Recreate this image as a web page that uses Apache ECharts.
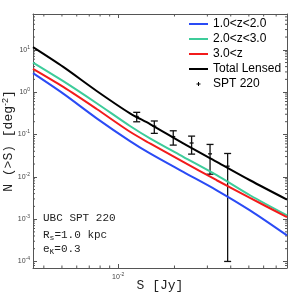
<!DOCTYPE html>
<html><head><meta charset="utf-8">
<script src="https://cdn.jsdelivr.net/npm/echarts@6/dist/echarts.min.js"></script>
<style>html,body{margin:0;padding:0;background:#fff}#c{width:308px;height:301px}</style>
</head><body><div id="c"></div>
<script>
// ---- data ----
const fluxS  = [0.0035, 0.00508, 0.00767, 0.01156, 0.01479, 0.02228, 0.03365, 0.0507, 0.08];
const nZ1to2 = [2.80, 0.919, 0.2404, 0.0697, 0.0356, 0.01303, 0.0048, 0.00161, 0.000412];
const nZ2to3 = [4.99, 1.81, 0.545, 0.158, 0.0807, 0.0296, 0.01089, 0.00366, 0.00123];
const nZ3up  = [3.54, 1.325, 0.399, 0.1156, 0.0614, 0.0225, 0.00828, 0.00316, 0.00112];
const nTotal = [11.56, 3.94, 1.065, 0.3155, 0.176, 0.0614, 0.0225, 0.00828, 0.00289];
const sptS   = [0.01256, 0.0156, 0.0197, 0.0247, 0.031, 0.0385];
const sptN   = [0.266, 0.157, 0.089, 0.0628, 0.0348, 0.0178];
const sptErr = [0.067, 0.051, 0.033, 0.0285, 0.0233, 0.0177];
const seriesNames = ['1.0<z<2.0', '2.0<z<3.0', '3.0<z', 'Total Lensed', 'SPT 220'];
const xRange = [0.0035, 0.08];
const yRange = [7e-5, 70];
const xMinorTicks = [0.004, 0.005, 0.006, 0.007, 0.008, 0.009, 0.02, 0.03, 0.04, 0.05, 0.06, 0.07];
const yMinorTicks = [8e-5, 9e-5,
  2e-4, 3e-4, 4e-4, 5e-4, 6e-4, 7e-4, 8e-4, 9e-4,
  2e-3, 3e-3, 4e-3, 5e-3, 6e-3, 7e-3, 8e-3, 9e-3,
  2e-2, 3e-2, 4e-2, 5e-2, 6e-2, 7e-2, 8e-2, 9e-2,
  0.2, 0.3, 0.4, 0.5, 0.6, 0.7, 0.8, 0.9,
  2, 3, 4, 5, 6, 7, 8, 9,
  20, 30, 40, 50, 60];

// ---- styles ----
const colors = ['#2a4bf5', '#3dcc9a', '#f21b1b', '#000000'];
const axisColor = '#555';
const lineIcon = 'path://M0,0 M19,12 M0,5 L19,5 L19,7 L0,7 Z';
const plusIcon = 'path://M0,0 M19,12 M9,4 L10,4 L10,5.5 L11.5,5.5 L11.5,6.5 L10,6.5 L10,8 L9,8 L9,6.5 L7.5,6.5 L7.5,5.5 L9,5.5 Z';

function powLabel(v) {
  const e = Math.log10(v);
  if (Math.abs(e - Math.round(e)) > 1e-6) return '';
  return '{b|10}{s|' + Math.round(e) + '}';
}
const labelRich = {
  b: {fontSize: 7, fontFamily: 'Liberation Sans', color: '#444'},
  s: {fontSize: 5, fontFamily: 'Liberation Sans', color: '#444', padding: [0, 0, 5, 0]}
};

function lineSeries(name, data, color) {
  return {
    type: 'line', name: name, smooth: 0.3, showSymbol: false, symbol: 'none',
    data: fluxS.map((s, i) => [s, data[i]]),
    lineStyle: {color: color, width: 2}, itemStyle: {color: color},
    emphasis: {disabled: true}, animation: false
  };
}

const chart = echarts.init(document.getElementById('c'), null, {renderer: 'canvas'});
const option = {
  animation: false,
  grid: {left: 33, right: 21, top: 14, bottom: 33, outerBoundsMode: 'none', containLabel: false},
  legend: {
    orient: 'vertical', left: 189, top: 18, itemWidth: 19, itemHeight: 12, itemGap: 3, padding: 0,
    selectedMode: false,
    textStyle: {fontFamily: 'Liberation Sans', fontSize: 12, color: '#000', lineHeight: 12},
    data: [
      {name: seriesNames[0], icon: lineIcon},
      {name: seriesNames[1], icon: lineIcon},
      {name: seriesNames[2], icon: lineIcon},
      {name: seriesNames[3], icon: lineIcon},
      {name: seriesNames[4], icon: plusIcon}
    ]
  },
  xAxis: [{
    type: 'log', logBase: 10, min: xRange[0], max: xRange[1], position: 'bottom',
    axisLine: {show: true, lineStyle: {color: axisColor, width: 1}},
    axisTick: {show: true, inside: true, length: 4, lineStyle: {color: axisColor}},
    axisLabel: {formatter: powLabel, rich: labelRich, margin: 4},
    splitLine: {show: false},
    name: 'S [Jy]', nameLocation: 'middle', nameGap: 11, nameMoveOverlap: false,
    nameTextStyle: {fontFamily: 'Liberation Mono', fontSize: 13, color: '#222'}
  }, {
    type: 'log', logBase: 10, min: xRange[0], max: xRange[1], position: 'top',
    axisLine: {show: true, lineStyle: {color: axisColor, width: 1}},
    axisTick: {show: true, inside: true, length: 4, lineStyle: {color: axisColor}},
    axisLabel: {show: false}, splitLine: {show: false}
  }],
  yAxis: [{
    type: 'log', logBase: 10, min: yRange[0], max: yRange[1], position: 'left',
    axisLine: {show: true, lineStyle: {color: axisColor, width: 1}},
    axisTick: {show: true, inside: true, length: 4, lineStyle: {color: axisColor}},
    axisLabel: {formatter: powLabel, rich: labelRich, margin: 3},
    splitLine: {show: false},
    name: 'N (>S) [deg{sup|-2}]', nameLocation: 'middle', nameGap: 16, nameMoveOverlap: false,
    nameTextStyle: {fontFamily: 'Liberation Mono', fontSize: 13, color: '#222',
      rich: {sup: {fontFamily: 'Liberation Sans', fontSize: 9, color: '#222', padding: [0, 0, 7, 0]}}}
  }, {
    type: 'log', logBase: 10, min: yRange[0], max: yRange[1], position: 'right',
    axisLine: {show: true, lineStyle: {color: axisColor, width: 1}},
    axisTick: {show: true, inside: true, length: 4, lineStyle: {color: axisColor}},
    axisLabel: {show: false}, splitLine: {show: false}
  }],
  series: [
    lineSeries(seriesNames[0], nZ1to2, colors[0]),
    lineSeries(seriesNames[1], nZ2to3, colors[1]),
    lineSeries(seriesNames[2], nZ3up, colors[2]),
    lineSeries(seriesNames[3], nTotal, colors[3]),
    {
      type: 'custom', name: seriesNames[4], itemStyle: {color: '#000'},
      data: sptS.map((s, i) => [s, sptN[i], sptErr[i]]),
      encode: {x: 0, y: 1},
      renderItem: function (params, api) {
        const s = api.value(0), n = api.value(1), e = api.value(2);
        const lo = Math.max(n - e, yRange[0]);
        const pc = api.coord([s, n]);
        const pt = api.coord([s, n + e]);
        const pb = api.coord([s, lo]);
        const cap = 3.5, m = 2;
        const st = {stroke: '#111', lineWidth: 1.3};
        return {type: 'group', children: [
          {type: 'line', shape: {x1: pt[0], y1: pt[1], x2: pb[0], y2: pb[1]}, style: st},
          {type: 'line', shape: {x1: pt[0] - cap, y1: pt[1], x2: pt[0] + cap, y2: pt[1]}, style: st},
          {type: 'line', shape: {x1: pb[0] - cap, y1: pb[1], x2: pb[0] + cap, y2: pb[1]}, style: st},
          {type: 'line', shape: {x1: pc[0] - m, y1: pc[1], x2: pc[0] + m, y2: pc[1]}, style: st}
        ]};
      }
    },
    {
      type: 'custom', name: 'xminor', silent: true,
      data: xMinorTicks.map(v => [v, yRange[0]]),
      encode: {x: 0, y: 1},
      renderItem: function (params, api) {
        const v = api.value(0);
        const pb = api.coord([v, yRange[0]]);
        const pt = api.coord([v, yRange[1]]);
        const st = {stroke: axisColor, lineWidth: 1};
        return {type: 'group', children: [
          {type: 'line', shape: {x1: pb[0], y1: pb[1], x2: pb[0], y2: pb[1] - 2.5}, style: st},
          {type: 'line', shape: {x1: pt[0], y1: pt[1], x2: pt[0], y2: pt[1] + 2.5}, style: st}
        ]};
      }
    },
    {
      type: 'custom', name: 'yminor', silent: true,
      data: yMinorTicks.map(v => [xRange[0], v]),
      encode: {x: 0, y: 1},
      renderItem: function (params, api) {
        const v = api.value(1);
        const pl = api.coord([xRange[0], v]);
        const pr = api.coord([xRange[1], v]);
        const st = {stroke: axisColor, lineWidth: 1};
        return {type: 'group', children: [
          {type: 'line', shape: {x1: pl[0], y1: pl[1], x2: pl[0] + 2, y2: pl[1]}, style: st},
          {type: 'line', shape: {x1: pr[0], y1: pr[1], x2: pr[0] - 2, y2: pr[1]}, style: st}
        ]};
      }
    }
  ],
  graphic: [
    {type: 'text', left: 43, top: 213, silent: true,
      style: {text: 'UBC SPT 220', fontFamily: 'Liberation Mono', fontSize: 11, fill: '#222'}},
    {type: 'text', left: 43, top: 230, silent: true,
      style: {text: 'R{sub|s}=1.0 kpc', fontFamily: 'Liberation Mono', fontSize: 11, fill: '#222',
        rich: {sub: {fontFamily: 'Liberation Mono', fontSize: 8, fill: '#222', padding: [5, 0, 0, 0]}}}},
    {type: 'text', left: 43, top: 244, silent: true,
      style: {text: 'e{sub|κ}=0.3', fontFamily: 'Liberation Mono', fontSize: 11, fill: '#222',
        rich: {sub: {fontFamily: 'DejaVu Sans', fontSize: 8, fill: '#222', padding: [5, 0, 0, 0]}}}}
  ]
};
chart.setOption(option);
</script>
</body></html>
